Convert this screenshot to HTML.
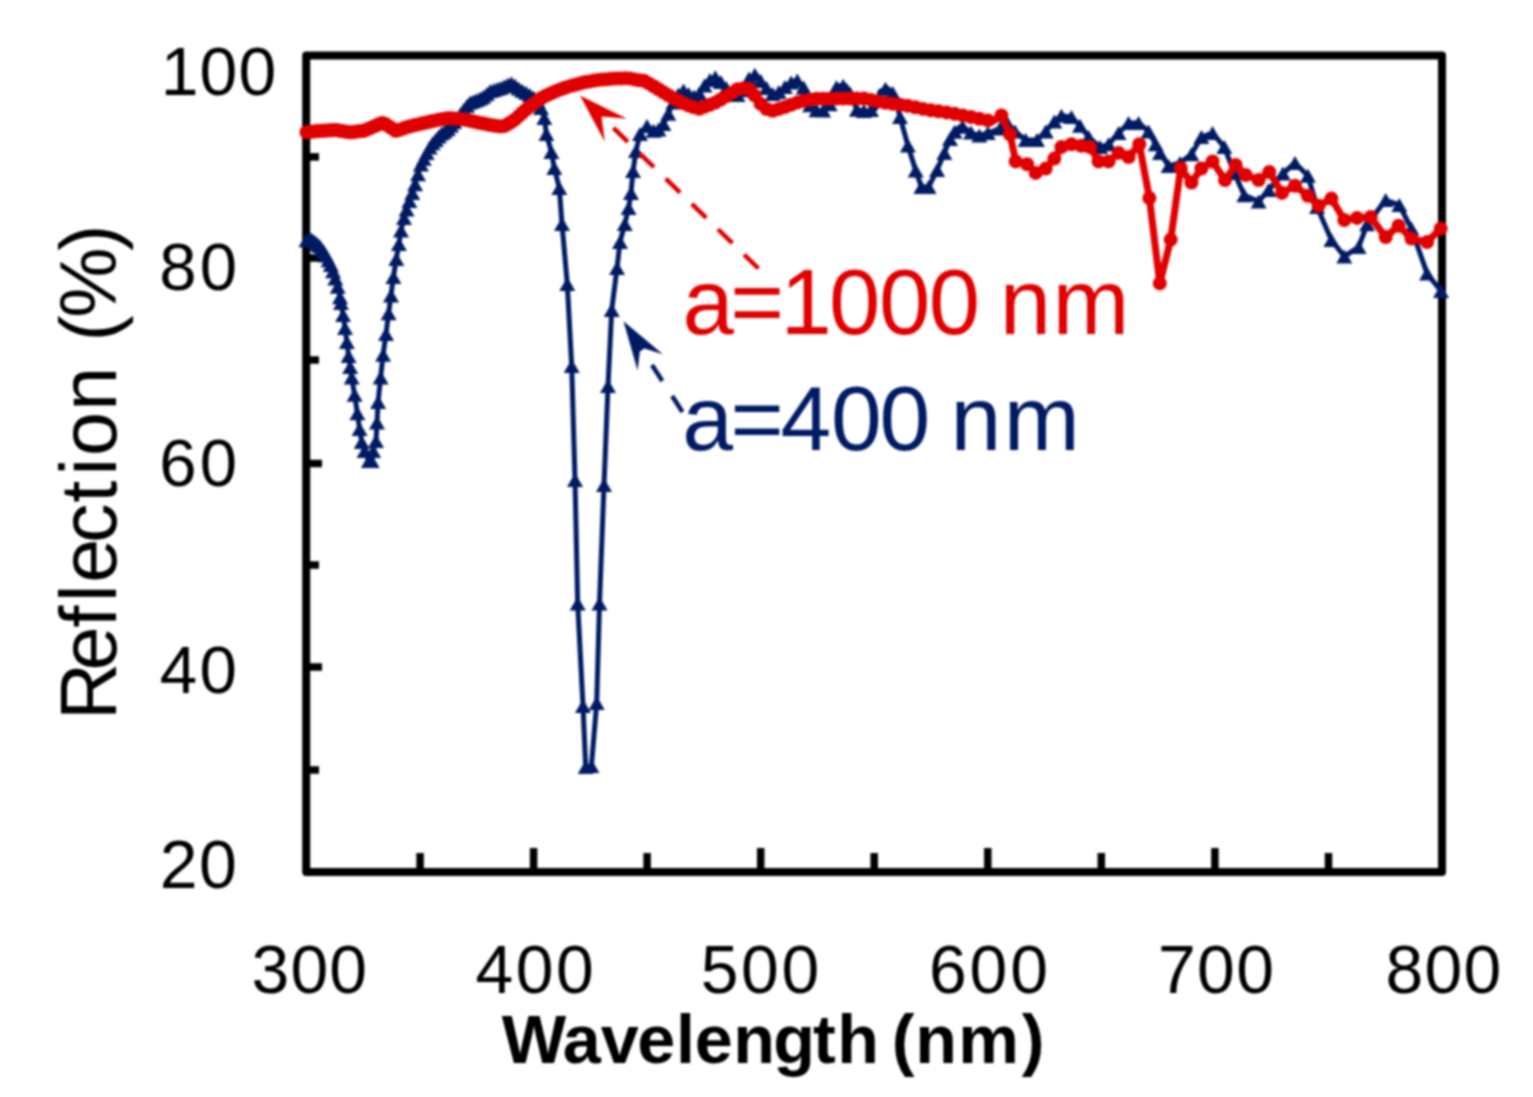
<!DOCTYPE html>
<html><head><meta charset="utf-8"><title>Reflection spectra</title>
<style>html,body{margin:0;padding:0;background:#fff;overflow:hidden}svg{display:block;filter:blur(1px)}</style>
</head><body>
<svg width="1533" height="1097" viewBox="0 0 1533 1097">
<rect width="1533" height="1097" fill="#fff"/>
<g stroke="#000" stroke-width="7.5"><line x1="306" y1="156.9" x2="319" y2="156.9"/><line x1="306" y1="258" x2="322" y2="258"/><line x1="306" y1="360" x2="319" y2="360"/><line x1="306" y1="463.5" x2="322" y2="463.5"/><line x1="306" y1="565" x2="319" y2="565"/><line x1="306" y1="667" x2="322" y2="667"/><line x1="306" y1="770" x2="319" y2="770"/><line x1="420.1" y1="872" x2="420.1" y2="853"/><line x1="533.6" y1="872" x2="533.6" y2="848"/><line x1="647.1" y1="872" x2="647.1" y2="853"/><line x1="760.7" y1="872" x2="760.7" y2="848"/><line x1="874.2" y1="872" x2="874.2" y2="853"/><line x1="987.8" y1="872" x2="987.8" y2="848"/><line x1="1101.3" y1="872" x2="1101.3" y2="853"/><line x1="1214.9" y1="872" x2="1214.9" y2="848"/><line x1="1328.5" y1="872" x2="1328.5" y2="853"/></g>
<rect x="306.2" y="55.5" width="1135.8" height="816.5" fill="none" stroke="#000" stroke-width="8" stroke-linejoin="round"/>
<g fill="none" stroke="#001B63" stroke-width="5" stroke-linejoin="round"><polyline points="306.0,240.5 309.5,239.0 313.0,240.5 320.0,246.5 326.0,255.0 331.7,267.0 335.5,279.0 338.9,291.0 341.0,303.0 343.1,315.0 345.0,328.0 346.9,342.0 348.6,356.0 350.2,367.0 351.7,377.6 354.6,394.7 357.4,413.3 359.6,429.0 361.7,441.9 364.6,451.1 368.9,461.1 371.7,461.1 373.1,451.1 376.0,441.1 377.0,422.6 378.1,401.9 380.6,377.6 383.1,354.7 386.0,334.0 388.6,313.3 391.0,295.4 393.4,276.9 396.3,259.0 398.9,244.0 401.0,230.4 404.0,218.0 408.0,205.0 414.0,188.0 421.0,164.0 431.0,145.0 441.0,134.0 447.0,130.0 457.0,119.0 463.0,111.0 469.0,103.0 477.0,100.0 485.0,96.0 490.0,91.0 500.0,88.0 505.0,86.0 511.0,83.0 516.0,86.0 520.0,89.5 528.6,94.0 537.0,100.0 541.0,108.0 544.3,118.0 546.4,134.0 551.4,152.0 554.3,168.0 559.3,188.0 562.0,224.0 567.3,284.0 571.7,366.0 575.0,480.0 577.7,603.5 583.0,706.0 585.7,767.0 591.4,766.0 596.7,703.0 599.5,603.5 604.0,485.0 608.0,386.0 611.7,310.0 617.0,268.0 620.0,242.0 624.8,224.0 628.6,208.0 631.0,193.0 633.0,171.0 636.0,151.0 640.0,134.0 647.0,126.0 654.0,131.0 661.0,128.6 667.0,117.0 671.4,106.0 677.0,96.0 683.0,90.0 693.0,97.0 700.0,93.0 707.0,81.4 715.7,77.0 724.3,85.7 733.0,95.7 741.4,94.3 748.6,78.6 755.7,74.3 764.3,85.7 774.3,95.7 783.0,88.6 790.0,83.0 797.0,80.0 804.0,88.0 811.4,109.0 821.4,111.4 828.6,107.0 837.0,85.7 845.7,85.7 851.4,95.7 857.0,110.0 867.0,111.4 875.7,108.6 880.0,91.4 887.0,87.9 894.3,94.3 900.0,117.0 907.9,145.4 915.7,170.4 921.4,187.0 928.6,187.0 937.1,170.0 944.3,153.0 950.0,139.0 955.0,131.0 961.4,125.7 971.4,132.9 978.6,135.7 988.6,132.9 1000.0,128.5 1007.5,123.5 1015.0,131.5 1025.7,140.0 1037.0,140.0 1045.7,131.4 1054.3,121.4 1061.4,115.7 1071.4,117.1 1080.0,125.7 1088.6,137.1 1100.0,147.1 1108.6,144.3 1118.6,132.9 1128.6,122.9 1138.6,122.9 1148.6,131.4 1155.7,144.3 1160.0,152.9 1168.6,166.0 1180.0,162.9 1191.4,154.3 1201.4,137.1 1212.5,133.0 1224.3,147.1 1234.3,172.9 1244.3,195.3 1258.6,201.4 1268.6,190.0 1282.9,173.5 1295.0,163.0 1307.9,175.7 1317.1,207.1 1331.4,240.0 1344.3,256.4 1358.6,247.1 1367.1,224.3 1385.7,200.0 1399.3,205.0 1411.4,228.6 1427.1,273.6 1441.0,291.0"/></g>
<path fill="#001B63" d="M306.5,233.3L314.5,247.3L298.5,247.3ZM308.6,232.4L316.6,246.4L300.6,246.4ZM310.8,232.6L318.8,246.6L302.8,246.6ZM312.9,233.5L320.9,247.5L304.9,247.5ZM315.1,235.3L323.1,249.3L307.1,249.3ZM317.3,237.2L325.3,251.2L309.3,251.2ZM319.5,239.1L327.5,253.1L311.5,253.1ZM321.7,242.0L329.7,256.0L313.7,256.0ZM324.0,245.1L332.0,259.1L316.0,259.1ZM326.2,248.5L334.2,262.5L318.2,262.5ZM328.5,253.2L336.5,267.2L320.5,267.2ZM330.8,258.0L338.8,272.0L322.8,272.0ZM333.0,264.2L341.0,278.2L325.0,278.2ZM335.3,271.5L343.3,285.5L327.3,285.5ZM337.7,279.7L345.7,293.7L329.7,293.7ZM340.0,290.3L348.0,304.3L332.0,304.3ZM341.0,296.0L349.0,310.0L333.0,310.0ZM343.1,308.0L351.1,322.0L335.1,322.0ZM345.0,321.0L353.0,335.0L337.0,335.0ZM346.9,335.0L354.9,349.0L338.9,349.0ZM348.6,349.0L356.6,363.0L340.6,363.0ZM350.2,360.0L358.2,374.0L342.2,374.0ZM351.7,370.6L359.7,384.6L343.7,384.6ZM354.6,387.7L362.6,401.7L346.6,401.7ZM357.4,406.3L365.4,420.3L349.4,420.3ZM359.6,422.0L367.6,436.0L351.6,436.0ZM361.7,434.9L369.7,448.9L353.7,448.9ZM364.6,444.1L372.6,458.1L356.6,458.1ZM368.9,454.1L376.9,468.1L360.9,468.1ZM371.7,454.1L379.7,468.1L363.7,468.1ZM373.1,444.1L381.1,458.1L365.1,458.1ZM376.0,434.1L384.0,448.1L368.0,448.1ZM377.0,415.6L385.0,429.6L369.0,429.6ZM378.1,394.9L386.1,408.9L370.1,408.9ZM380.6,370.6L388.6,384.6L372.6,384.6ZM383.1,347.7L391.1,361.7L375.1,361.7ZM386.0,327.0L394.0,341.0L378.0,341.0ZM388.6,306.3L396.6,320.3L380.6,320.3ZM391.0,288.4L399.0,302.4L383.0,302.4ZM393.4,269.9L401.4,283.9L385.4,283.9ZM396.3,252.0L404.3,266.0L388.3,266.0ZM398.9,237.0L406.9,251.0L390.9,251.0ZM401.0,223.4L409.0,237.4L393.0,237.4ZM404.0,211.0L412.0,225.0L396.0,225.0ZM406.6,202.5L414.6,216.5L398.6,216.5ZM409.4,193.9L417.4,207.9L401.4,207.9ZM412.3,185.9L420.3,199.9L404.3,199.9ZM415.1,177.2L423.1,191.2L407.1,191.2ZM418.0,167.3L426.0,181.3L410.0,181.3ZM420.9,157.4L428.9,171.4L412.9,171.4ZM423.8,151.7L431.8,165.7L415.8,165.7ZM426.7,146.1L434.7,160.1L418.7,160.1ZM429.7,140.5L437.7,154.5L421.7,154.5ZM432.7,136.2L440.7,150.2L424.7,150.2ZM435.7,132.9L443.7,146.9L427.7,146.9ZM438.7,129.5L446.7,143.5L430.7,143.5ZM441.7,126.5L449.7,140.5L433.7,140.5ZM444.8,124.5L452.8,138.5L436.8,138.5ZM447.9,122.0L455.9,136.0L439.9,136.0ZM451.0,118.6L459.0,132.6L443.0,132.6ZM454.2,115.1L462.2,129.1L446.2,129.1ZM457.3,111.6L465.3,125.6L449.3,125.6ZM460.5,107.3L468.5,121.3L452.5,121.3ZM463.7,103.0L471.7,117.0L455.7,117.0ZM467.0,98.7L475.0,112.7L459.0,112.7ZM470.2,95.5L478.2,109.5L462.2,109.5ZM473.5,94.3L481.5,108.3L465.5,108.3ZM476.8,93.1L484.8,107.1L468.8,107.1ZM480.2,91.4L488.2,105.4L472.2,105.4ZM483.5,89.7L491.5,103.7L475.5,103.7ZM486.9,87.1L494.9,101.1L478.9,101.1ZM490.3,83.9L498.3,97.9L482.3,97.9ZM493.8,82.9L501.8,96.9L485.8,96.9ZM497.3,81.8L505.3,95.8L489.3,95.8ZM500.8,80.7L508.8,94.7L492.8,94.7ZM504.3,79.3L512.3,93.3L496.3,93.3ZM507.9,77.6L515.9,91.6L499.9,91.6ZM511.4,76.3L519.4,90.3L503.4,90.3ZM515.1,78.4L523.1,92.4L507.1,92.4ZM518.7,81.4L526.7,95.4L510.7,95.4ZM522.4,83.7L530.4,97.7L514.4,97.7ZM526.1,85.7L534.1,99.7L518.1,99.7ZM529.8,87.9L537.8,101.9L521.8,101.9ZM533.6,90.6L541.6,104.6L525.6,104.6ZM537.4,93.8L545.4,107.8L529.4,107.8ZM541.0,101.0L549.0,115.0L533.0,115.0ZM544.3,111.0L552.3,125.0L536.3,125.0ZM546.4,127.0L554.4,141.0L538.4,141.0ZM551.4,145.0L559.4,159.0L543.4,159.0ZM554.3,161.0L562.3,175.0L546.3,175.0ZM559.3,181.0L567.3,195.0L551.3,195.0ZM562.0,217.0L570.0,231.0L554.0,231.0ZM567.3,277.0L575.3,291.0L559.3,291.0ZM571.7,359.0L579.7,373.0L563.7,373.0ZM575.0,473.0L583.0,487.0L567.0,487.0ZM577.7,596.5L585.7,610.5L569.7,610.5ZM583.0,699.0L591.0,713.0L575.0,713.0ZM585.7,760.0L593.7,774.0L577.7,774.0ZM591.4,759.0L599.4,773.0L583.4,773.0ZM596.7,696.0L604.7,710.0L588.7,710.0ZM599.5,596.5L607.5,610.5L591.5,610.5ZM604.0,478.0L612.0,492.0L596.0,492.0ZM608.0,379.0L616.0,393.0L600.0,393.0ZM611.7,303.0L619.7,317.0L603.7,317.0ZM617.0,261.0L625.0,275.0L609.0,275.0ZM620.0,235.0L628.0,249.0L612.0,249.0ZM624.8,217.0L632.8,231.0L616.8,231.0ZM628.6,201.0L636.6,215.0L620.6,215.0ZM631.0,186.0L639.0,200.0L623.0,200.0ZM633.0,164.0L641.0,178.0L625.0,178.0ZM636.0,144.0L644.0,158.0L628.0,158.0ZM640.0,127.0L648.0,141.0L632.0,141.0ZM647.0,119.0L655.0,133.0L639.0,133.0ZM653.6,123.7L661.6,137.7L645.6,137.7ZM658.5,122.5L666.5,136.5L650.5,136.5ZM663.4,117.0L671.4,131.0L655.4,131.0ZM668.3,106.7L676.3,120.7L660.3,120.7ZM673.4,95.5L681.4,109.5L665.4,109.5ZM678.4,87.6L686.4,101.6L670.4,101.6ZM683.5,83.4L691.5,97.4L675.5,97.4ZM688.7,87.0L696.7,101.0L680.7,101.0ZM693.9,89.5L701.9,103.5L685.9,103.5ZM699.2,86.5L707.2,100.5L691.2,100.5ZM704.5,78.6L712.5,92.6L696.5,92.6ZM709.9,73.0L717.9,87.0L701.9,87.0ZM715.3,70.2L723.3,84.2L707.3,84.2ZM720.8,75.1L728.8,89.1L712.8,89.1ZM726.3,81.0L734.3,95.0L718.3,95.0ZM731.9,87.4L739.9,101.4L723.9,101.4ZM737.5,87.9L745.5,101.9L729.5,101.9ZM743.2,83.3L751.2,97.3L735.2,97.3ZM749.0,71.4L757.0,85.4L741.0,85.4ZM754.8,67.8L762.8,81.8L746.8,81.8ZM760.7,73.9L768.7,87.9L752.7,87.9ZM766.6,81.0L774.6,95.0L758.6,95.0ZM772.7,87.1L780.7,101.1L764.7,101.1ZM778.7,85.1L786.7,99.1L770.7,99.1ZM784.9,80.1L792.9,94.1L776.9,94.1ZM791.1,75.5L799.1,89.5L783.1,89.5ZM797.3,73.4L805.3,87.4L789.3,87.4ZM803.7,80.6L811.7,94.6L795.7,94.6ZM810.1,98.2L818.1,112.2L802.1,112.2ZM816.5,103.2L824.5,117.2L808.5,117.2ZM823.1,103.4L831.1,117.4L815.1,117.4ZM829.7,97.2L837.7,111.2L821.7,111.2ZM836.4,80.2L844.4,94.2L828.4,94.2ZM843.2,78.7L851.2,92.7L835.2,92.7ZM850.0,86.3L858.0,100.3L842.0,100.3ZM856.9,102.8L864.9,116.8L848.9,116.8ZM863.9,104.0L871.9,118.0L855.9,118.0ZM871.0,103.1L879.0,117.1L863.0,117.1ZM878.2,91.7L886.2,105.7L870.2,105.7ZM885.4,81.7L893.4,95.7L877.4,95.7ZM892.7,85.9L900.7,99.9L884.7,99.9ZM900.0,110.0L908.0,124.0L892.0,124.0ZM907.9,138.4L915.9,152.4L899.9,152.4ZM915.7,163.4L923.7,177.4L907.7,177.4ZM921.4,180.0L929.4,194.0L913.4,194.0ZM928.6,180.0L936.6,194.0L920.6,194.0ZM937.1,163.0L945.1,177.0L929.1,177.0ZM944.3,146.0L952.3,160.0L936.3,160.0ZM950.0,132.0L958.0,146.0L942.0,146.0ZM954.6,124.7L962.6,138.7L946.6,138.7ZM962.7,119.7L970.7,133.7L954.7,133.7ZM971.0,125.6L979.0,139.6L963.0,139.6ZM979.3,128.5L987.3,142.5L971.3,142.5ZM987.8,126.1L995.8,140.1L979.8,140.1ZM1000.0,121.5L1008.0,135.5L992.0,135.5ZM1007.5,116.5L1015.5,130.5L999.5,130.5ZM1015.0,124.5L1023.0,138.5L1007.0,138.5ZM1025.7,133.0L1033.7,147.0L1017.7,147.0ZM1037.0,133.0L1045.0,147.0L1029.0,147.0ZM1045.7,124.4L1053.7,138.4L1037.7,138.4ZM1054.3,114.4L1062.3,128.4L1046.3,128.4ZM1061.4,108.7L1069.4,122.7L1053.4,122.7ZM1071.4,110.1L1079.4,124.1L1063.4,124.1ZM1080.0,118.7L1088.0,132.7L1072.0,132.7ZM1088.6,130.1L1096.6,144.1L1080.6,144.1ZM1100.0,140.1L1108.0,154.1L1092.0,154.1ZM1108.6,137.3L1116.6,151.3L1100.6,151.3ZM1118.6,125.9L1126.6,139.9L1110.6,139.9ZM1128.6,115.9L1136.6,129.9L1120.6,129.9ZM1138.6,115.9L1146.6,129.9L1130.6,129.9ZM1148.6,124.4L1156.6,138.4L1140.6,138.4ZM1155.7,137.3L1163.7,151.3L1147.7,151.3ZM1160.0,145.9L1168.0,159.9L1152.0,159.9ZM1168.6,159.0L1176.6,173.0L1160.6,173.0ZM1180.0,155.9L1188.0,169.9L1172.0,169.9ZM1191.4,147.3L1199.4,161.3L1183.4,161.3ZM1201.4,130.1L1209.4,144.1L1193.4,144.1ZM1212.5,126.0L1220.5,140.0L1204.5,140.0ZM1224.3,140.1L1232.3,154.1L1216.3,154.1ZM1234.3,165.9L1242.3,179.9L1226.3,179.9ZM1244.3,188.3L1252.3,202.3L1236.3,202.3ZM1258.6,194.4L1266.6,208.4L1250.6,208.4ZM1268.6,183.0L1276.6,197.0L1260.6,197.0ZM1282.9,166.5L1290.9,180.5L1274.9,180.5ZM1295.0,156.0L1303.0,170.0L1287.0,170.0ZM1307.9,168.7L1315.9,182.7L1299.9,182.7ZM1317.1,200.1L1325.1,214.1L1309.1,214.1ZM1331.4,233.0L1339.4,247.0L1323.4,247.0ZM1344.3,249.4L1352.3,263.4L1336.3,263.4ZM1358.6,240.1L1366.6,254.1L1350.6,254.1ZM1367.1,217.3L1375.1,231.3L1359.1,231.3ZM1385.7,193.0L1393.7,207.0L1377.7,207.0ZM1399.3,198.0L1407.3,212.0L1391.3,212.0ZM1411.4,221.6L1419.4,235.6L1403.4,235.6ZM1427.1,266.6L1435.1,280.6L1419.1,280.6ZM1441.0,284.0L1449.0,298.0L1433.0,298.0Z"/>
<g fill="none" stroke="#E00000" stroke-width="7" stroke-linejoin="round"><polyline points="306.0,132.4 318.6,131.0 335.7,130.0 350.0,132.4 364.3,130.7 383.0,122.5 396.0,131.0 407.1,127.1 420.0,123.9 434.4,120.6 448.7,118.1 463.0,119.1 477.4,122.4 491.8,125.3 503.2,126.7 513.3,121.0 527.6,108.1 542.0,97.6 556.3,90.9 570.7,85.8 585.0,82.2 599.4,79.7 613.7,78.7 628.1,78.2 639.6,80.4 644.4,80.8 658.7,89.4 673.0,98.0 687.4,105.2 698.9,108.8 716.1,102.3 730.5,93.7 739.1,88.3 749.1,88.7 756.3,97.3 763.5,108.1 773.5,111.0 787.9,105.9 802.2,100.9 816.6,98.7 842.9,98.6 864.3,98.6 885.7,102.9 907.1,105.7 928.6,110.0 950.0,112.9 971.4,117.1 992.9,121.4 1001.4,115.5 1010.0,134.3 1015.7,161.4 1027.1,164.3 1035.7,172.9 1045.7,168.6 1054.3,158.6 1061.4,147.1 1071.4,144.3 1081.4,145.7 1090.0,147.1 1098.6,161.4 1108.6,161.4 1118.6,152.9 1128.6,157.1 1139.3,144.3 1149.4,198.0 1159.8,283.4 1170.7,239.6 1180.7,168.0 1191.4,182.5 1201.4,168.5 1212.5,161.4 1225.0,180.0 1235.7,165.0 1245.7,175.0 1258.6,180.0 1269.3,172.0 1282.0,192.9 1295.0,185.7 1307.9,195.7 1318.6,205.7 1331.4,198.6 1344.3,220.0 1357.1,217.9 1370.7,217.1 1385.7,237.1 1398.6,225.7 1411.4,238.6 1427.1,242.1 1440.7,228.6"/></g>
<g fill="#E00000"><circle cx="306.5" cy="132.3" r="7.0"/><circle cx="308.6" cy="132.1" r="7.0"/><circle cx="310.8" cy="131.9" r="7.0"/><circle cx="312.9" cy="131.6" r="7.0"/><circle cx="315.1" cy="131.4" r="7.0"/><circle cx="317.3" cy="131.1" r="7.0"/><circle cx="319.5" cy="130.9" r="7.0"/><circle cx="321.7" cy="130.8" r="7.0"/><circle cx="324.0" cy="130.7" r="7.0"/><circle cx="326.2" cy="130.6" r="7.0"/><circle cx="328.5" cy="130.4" r="7.0"/><circle cx="330.8" cy="130.3" r="7.0"/><circle cx="333.0" cy="130.2" r="7.0"/><circle cx="335.3" cy="130.0" r="7.0"/><circle cx="337.7" cy="130.3" r="7.0"/><circle cx="340.0" cy="130.7" r="7.0"/><circle cx="342.4" cy="131.1" r="7.0"/><circle cx="344.7" cy="131.5" r="7.0"/><circle cx="347.1" cy="131.9" r="7.0"/><circle cx="349.5" cy="132.3" r="7.0"/><circle cx="351.9" cy="132.2" r="7.0"/><circle cx="354.4" cy="131.9" r="7.0"/><circle cx="356.8" cy="131.6" r="7.0"/><circle cx="359.3" cy="131.3" r="7.0"/><circle cx="361.7" cy="131.0" r="7.0"/><circle cx="364.2" cy="130.7" r="7.0"/><circle cx="366.8" cy="129.6" r="7.0"/><circle cx="369.3" cy="128.5" r="7.0"/><circle cx="371.8" cy="127.4" r="7.0"/><circle cx="374.4" cy="126.3" r="7.0"/><circle cx="377.0" cy="125.1" r="7.0"/><circle cx="379.6" cy="124.0" r="7.0"/><circle cx="382.2" cy="122.9" r="7.0"/><circle cx="384.8" cy="123.7" r="7.0"/><circle cx="387.5" cy="125.4" r="7.0"/><circle cx="390.2" cy="127.2" r="7.0"/><circle cx="392.9" cy="128.9" r="7.0"/><circle cx="395.6" cy="130.7" r="7.0"/><circle cx="398.3" cy="130.2" r="7.0"/><circle cx="401.1" cy="129.2" r="7.0"/><circle cx="403.8" cy="128.2" r="7.0"/><circle cx="406.6" cy="127.3" r="7.0"/><circle cx="409.4" cy="126.5" r="7.0"/><circle cx="412.3" cy="125.8" r="7.0"/><circle cx="415.1" cy="125.1" r="7.0"/><circle cx="418.0" cy="124.4" r="7.0"/><circle cx="420.9" cy="123.7" r="7.0"/><circle cx="423.8" cy="123.0" r="7.0"/><circle cx="426.7" cy="122.4" r="7.0"/><circle cx="429.7" cy="121.7" r="7.0"/><circle cx="432.7" cy="121.0" r="7.0"/><circle cx="435.7" cy="120.4" r="7.0"/><circle cx="438.7" cy="119.8" r="7.0"/><circle cx="441.7" cy="119.3" r="7.0"/><circle cx="444.8" cy="118.8" r="7.0"/><circle cx="447.9" cy="118.2" r="7.0"/><circle cx="451.0" cy="118.3" r="7.0"/><circle cx="454.2" cy="118.5" r="7.0"/><circle cx="457.3" cy="118.7" r="7.0"/><circle cx="460.5" cy="118.9" r="7.0"/><circle cx="463.7" cy="119.3" r="7.0"/><circle cx="467.0" cy="120.0" r="7.0"/><circle cx="470.2" cy="120.8" r="7.0"/><circle cx="473.5" cy="121.5" r="7.0"/><circle cx="476.8" cy="122.3" r="7.0"/><circle cx="480.2" cy="123.0" r="7.0"/><circle cx="483.5" cy="123.6" r="7.0"/><circle cx="486.9" cy="124.3" r="7.0"/><circle cx="490.3" cy="125.0" r="7.0"/><circle cx="493.8" cy="125.5" r="7.0"/><circle cx="497.3" cy="126.0" r="7.0"/><circle cx="500.8" cy="126.4" r="7.0"/><circle cx="504.3" cy="126.1" r="7.0"/><circle cx="507.9" cy="124.1" r="7.0"/><circle cx="511.4" cy="122.0" r="7.0"/><circle cx="515.1" cy="119.4" r="7.0"/><circle cx="518.7" cy="116.1" r="7.0"/><circle cx="522.4" cy="112.8" r="7.0"/><circle cx="526.1" cy="109.5" r="7.0"/><circle cx="529.8" cy="106.5" r="7.0"/><circle cx="533.6" cy="103.7" r="7.0"/><circle cx="537.4" cy="101.0" r="7.0"/><circle cx="541.2" cy="98.2" r="7.0"/><circle cx="545.1" cy="96.1" r="7.0"/><circle cx="549.0" cy="94.3" r="7.0"/><circle cx="552.9" cy="92.5" r="7.0"/><circle cx="556.9" cy="90.7" r="7.0"/><circle cx="560.9" cy="89.3" r="7.0"/><circle cx="564.9" cy="87.8" r="7.0"/><circle cx="569.0" cy="86.4" r="7.0"/><circle cx="573.1" cy="85.2" r="7.0"/><circle cx="577.2" cy="84.2" r="7.0"/><circle cx="581.4" cy="83.1" r="7.0"/><circle cx="585.6" cy="82.1" r="7.0"/><circle cx="589.9" cy="81.4" r="7.0"/><circle cx="594.2" cy="80.6" r="7.0"/><circle cx="598.5" cy="79.9" r="7.0"/><circle cx="602.9" cy="79.5" r="7.0"/><circle cx="607.3" cy="79.2" r="7.0"/><circle cx="611.7" cy="78.8" r="7.0"/><circle cx="616.2" cy="78.6" r="7.0"/><circle cx="620.7" cy="78.5" r="7.0"/><circle cx="625.3" cy="78.3" r="7.0"/><circle cx="629.9" cy="78.5" r="7.0"/><circle cx="634.5" cy="79.4" r="7.0"/><circle cx="639.2" cy="80.3" r="7.0"/><circle cx="644.0" cy="80.8" r="7.0"/><circle cx="648.7" cy="83.4" r="7.0"/><circle cx="653.6" cy="86.3" r="7.0"/><circle cx="658.5" cy="89.3" r="7.0"/><circle cx="663.4" cy="92.2" r="7.0"/><circle cx="668.3" cy="95.2" r="7.0"/><circle cx="673.4" cy="98.2" r="7.0"/><circle cx="678.4" cy="100.7" r="7.0"/><circle cx="683.5" cy="103.3" r="7.0"/><circle cx="688.7" cy="105.6" r="7.0"/><circle cx="693.9" cy="107.2" r="7.0"/><circle cx="699.2" cy="108.7" r="7.0"/><circle cx="704.5" cy="106.7" r="7.0"/><circle cx="709.9" cy="104.7" r="7.0"/><circle cx="715.3" cy="102.6" r="7.0"/><circle cx="720.8" cy="99.5" r="7.0"/><circle cx="726.3" cy="96.2" r="7.0"/><circle cx="731.9" cy="92.8" r="7.0"/><circle cx="737.5" cy="89.3" r="7.0"/><circle cx="743.2" cy="88.5" r="7.0"/><circle cx="749.0" cy="88.7" r="7.0"/><circle cx="754.8" cy="95.5" r="7.0"/><circle cx="760.7" cy="103.9" r="7.0"/><circle cx="766.6" cy="109.0" r="7.0"/><circle cx="772.7" cy="110.8" r="7.0"/><circle cx="778.7" cy="109.1" r="7.0"/><circle cx="784.9" cy="107.0" r="7.0"/><circle cx="791.1" cy="104.8" r="7.0"/><circle cx="797.3" cy="102.6" r="7.0"/><circle cx="803.7" cy="100.7" r="7.0"/><circle cx="810.1" cy="99.7" r="7.0"/><circle cx="816.5" cy="98.7" r="7.0"/><circle cx="823.1" cy="98.7" r="7.0"/><circle cx="829.7" cy="98.7" r="7.0"/><circle cx="836.4" cy="98.6" r="7.0"/><circle cx="843.2" cy="98.6" r="7.0"/><circle cx="850.0" cy="98.6" r="7.0"/><circle cx="856.9" cy="98.6" r="7.0"/><circle cx="863.9" cy="98.6" r="7.0"/><circle cx="871.0" cy="99.9" r="7.0"/><circle cx="878.2" cy="101.4" r="7.0"/><circle cx="885.4" cy="102.8" r="7.0"/><circle cx="892.7" cy="103.8" r="7.0"/><circle cx="900.1" cy="104.8" r="7.0"/><circle cx="907.6" cy="105.8" r="7.0"/><circle cx="915.2" cy="107.3" r="7.0"/><circle cx="922.9" cy="108.9" r="7.0"/><circle cx="930.7" cy="110.3" r="7.0"/><circle cx="938.5" cy="111.3" r="7.0"/><circle cx="946.5" cy="112.4" r="7.0"/><circle cx="954.6" cy="113.8" r="7.0"/><circle cx="962.7" cy="115.4" r="7.0"/><circle cx="971.0" cy="117.0" r="7.0"/><circle cx="979.3" cy="118.7" r="7.0"/><circle cx="987.8" cy="120.4" r="7.0"/><circle cx="1001.4" cy="115.5" r="7.0"/><circle cx="1010.0" cy="134.3" r="7.0"/><circle cx="1015.7" cy="161.4" r="7.0"/><circle cx="1027.1" cy="164.3" r="7.0"/><circle cx="1035.7" cy="172.9" r="7.0"/><circle cx="1045.7" cy="168.6" r="7.0"/><circle cx="1054.3" cy="158.6" r="7.0"/><circle cx="1061.4" cy="147.1" r="7.0"/><circle cx="1071.4" cy="144.3" r="7.0"/><circle cx="1081.4" cy="145.7" r="7.0"/><circle cx="1090.0" cy="147.1" r="7.0"/><circle cx="1098.6" cy="161.4" r="7.0"/><circle cx="1108.6" cy="161.4" r="7.0"/><circle cx="1118.6" cy="152.9" r="7.0"/><circle cx="1128.6" cy="157.1" r="7.0"/><circle cx="1139.3" cy="144.3" r="7.0"/><circle cx="1149.4" cy="198.0" r="7.0"/><circle cx="1159.8" cy="283.4" r="7.0"/><circle cx="1170.7" cy="239.6" r="7.0"/><circle cx="1180.7" cy="168.0" r="7.0"/><circle cx="1191.4" cy="182.5" r="7.0"/><circle cx="1201.4" cy="168.5" r="7.0"/><circle cx="1212.5" cy="161.4" r="7.0"/><circle cx="1225.0" cy="180.0" r="7.0"/><circle cx="1235.7" cy="165.0" r="7.0"/><circle cx="1245.7" cy="175.0" r="7.0"/><circle cx="1258.6" cy="180.0" r="7.0"/><circle cx="1269.3" cy="172.0" r="7.0"/><circle cx="1282.0" cy="192.9" r="7.0"/><circle cx="1295.0" cy="185.7" r="7.0"/><circle cx="1307.9" cy="195.7" r="7.0"/><circle cx="1318.6" cy="205.7" r="7.0"/><circle cx="1331.4" cy="198.6" r="7.0"/><circle cx="1344.3" cy="220.0" r="7.0"/><circle cx="1357.1" cy="217.9" r="7.0"/><circle cx="1370.7" cy="217.1" r="7.0"/><circle cx="1385.7" cy="237.1" r="7.0"/><circle cx="1398.6" cy="225.7" r="7.0"/><circle cx="1411.4" cy="238.6" r="7.0"/><circle cx="1427.1" cy="242.1" r="7.0"/><circle cx="1440.7" cy="228.6" r="7.0"/></g>
<line x1="758.5" y1="268.5" x2="601.5" y2="116.4" stroke="#E00000" stroke-width="4.5" stroke-dasharray="20 16.4"/><path d="M580.0,95.5L604.8,141.8L601.5,116.4L627.0,118.8Z" fill="#E00000"/>
<line x1="682.5" y1="412.0" x2="640.4" y2="347.3" stroke="#001B63" stroke-width="4.5" stroke-dasharray="19 18"/><path d="M623.5,321.3L637.6,370.6L640.4,347.3L662.8,354.2Z" fill="#001B63"/>
<g font-family="'Liberation Sans', Arial, sans-serif" fill="#000">
<text x="160.65" y="95.35" font-size="67.86" textLength="115.68">100</text>
<text x="159.25" y="290.40" font-size="67.13" textLength="77.95">80</text>
<text x="159.25" y="485.60" font-size="67.13" textLength="77.95">60</text>
<text x="159.75" y="693.05" font-size="67.28" textLength="77.11">40</text>
<text x="159.75" y="888.00" font-size="68.00" textLength="77.12">20</text>
<text x="251.55" y="992.55" font-size="67.86" textLength="115.48">300</text>
<text x="475.50" y="992.55" font-size="67.86" textLength="118.18">400</text>
<text x="700.80" y="992.55" font-size="67.86" textLength="118.38">500</text>
<text x="929.05" y="992.55" font-size="67.86" textLength="118.88">600</text>
<text x="1158.00" y="992.55" font-size="67.86" textLength="115.98">700</text>
<text x="1385.50" y="992.55" font-size="67.86" textLength="115.78">800</text>
<text x="501.8 562.7 600.7 637.2 675.9 694.7 733.3 773.3 812.9 837.2 864.5 891.8 915.2 958.2 1021.7" y="1062.80" font-size="68.30" font-weight="bold">Wavelength (nm)</text>
<text transform="translate(-184.50,814.80) rotate(-90)" x="94.8 144.4 187.4 212.7 232.1 271.8 312.1 339.2 358.9 404.0 438.6 473.2 497.0 563.7" y="300.00" font-size="79.07">Reflection (%)</text>
<text x="682.4 730.3 780.6 829.0 879.0 928.7 964.2 999.8 1052.6" y="334.00" font-size="92.26" fill="#E00000">a=1000 nm</text>
<text x="682.3 730.5 780.4 831.0 879.5 915.0 950.5 1003.8" y="450.00" font-size="91.26" fill="#001B63">a=400 nm</text>
</g>
</svg>
</body></html>
